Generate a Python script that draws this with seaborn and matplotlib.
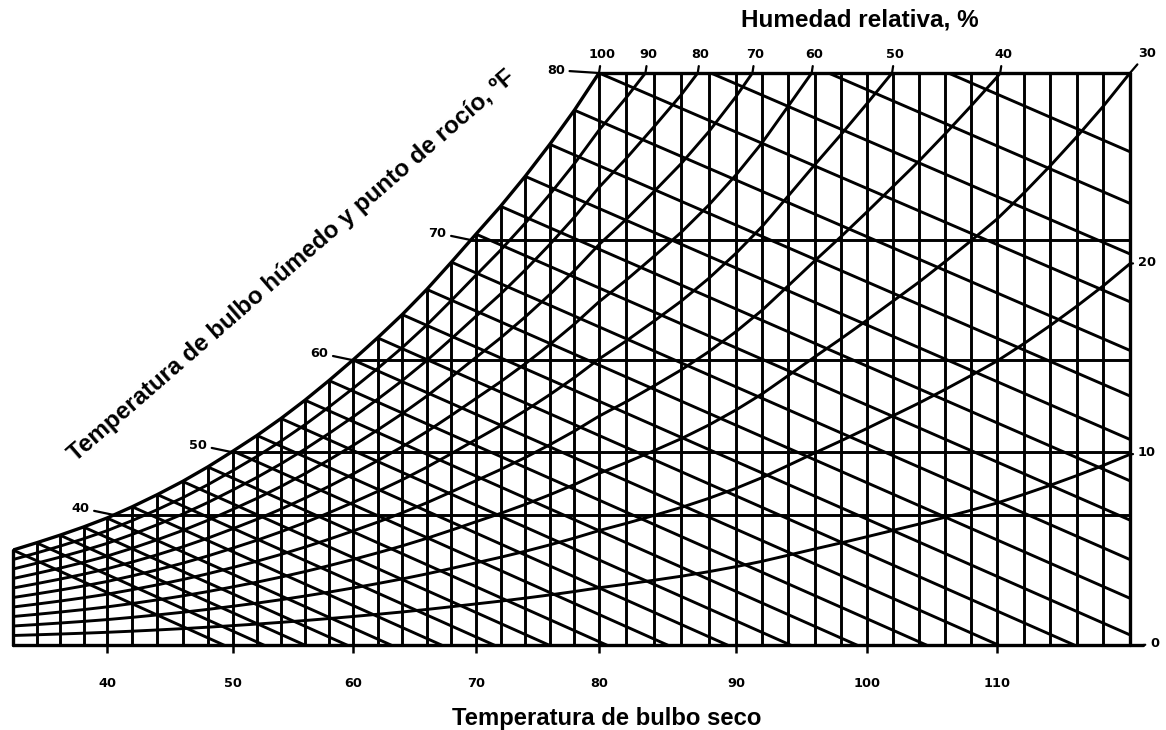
import numpy as np
import pandas as pd
import matplotlib
matplotlib.use("Agg")
import matplotlib.pyplot as plt
import seaborn as sns
from matplotlib.patches import Polygon

# ---------------- data ----------------
DRY_BULB = list(range(32, 122, 2))          # dry-bulb grid, °F
SATURATION = [4.98, 5.36, 5.76, 6.19, 6.66, 7.25, 7.89, 8.58, 9.34, 10.17,
              10.99, 11.88, 12.84, 13.87, 14.95, 16.11, 17.33, 18.65, 20.08, 21.55,
              23.01, 24.58, 26.26, 28.05, 30.00, 31.91, 33.96, 36.07, 38.44, 41.09,
              43.91, 47.12, 50.36, 53.52, 56.79, 60.12, 63.45, 67.00, 70.67, 74.46,
              78.97, 83.77, 88.85, 94.21, 100.00]   # 100 % RH curve (vertical scale units)
RH_LEVELS = [90, 80, 70, 60, 50, 40, 30, 20, 10]
TOP_RH_LABELS = [100, 90, 80, 70, 60, 50, 40, 30]
RIGHT_RH_LABELS = [20, 10, 0]
WET_BULB = list(range(32, 88, 2))
WB_SLOPE = 0.30                              # drop per °F along a wet-bulb line
DEW_LEVELS = [6.82, 10.12, 14.94, 21.24, 30.0]
DEW_LABELS = ["40", "50", "60", "70", "80"]
X_TICKS = [40, 50, 60, 70, 80, 90, 100, 110]
Y_TOP = 30.0

# hand-drawn (slightly uneven) temperature axis: where each tick sits along the axis
AXIS_T = [0, 32, 40, 50, 60, 70, 80, 90, 100, 110, 120, 200]
AXIS_U = [-376, 0, 94, 220, 340, 463, 586, 723, 854, 984, 1117, 2181]

LW = 2.1
NUM_FONT = dict(family=["DejaVu Sans"], fontweight="bold", fontsize=9.3, color="black")

sns.set_theme(style="white")
plt.rcParams["font.family"] = ["Liberation Sans", "DejaVu Sans"]
plt.rcParams["text.color"] = "black"

fig = plt.figure(figsize=(11.66, 7.30), dpi=100)
ax = fig.add_axes([13 / 1166, 85 / 730, 1117 / 1166, 572 / 730])


def _fwd(t):
    return np.interp(np.asarray(t, dtype=float), AXIS_T, AXIS_U)


def _inv(u):
    return np.interp(np.asarray(u, dtype=float), AXIS_U, AXIS_T)


ax.set_xscale("function", functions=(_fwd, _inv))
ax.set_xlim(DRY_BULB[0], DRY_BULB[-1])
ax.set_ylim(0, Y_TOP)
for sp in ax.spines.values():
    sp.set_visible(False)

T = np.array(DRY_BULB, dtype=float)
S = np.array(SATURATION, dtype=float)

# clip region: area under the saturation curve
clip_poly = Polygon([(T[0], 0)] + list(zip(T, S)) + [(T[-1], 0)], closed=True,
                    transform=ax.transData, fill=False)

# vertical dry-bulb lines
vl = ax.vlines(T[1:-1], 0, Y_TOP, colors="black", linewidth=LW)
vl.set_clip_path(clip_poly)

# dew-point horizontals
hl = ax.hlines(DEW_LEVELS[:-1], T[0], T[-1], colors="black", linewidth=LW)
hl.set_clip_path(clip_poly)

# relative humidity curves (seaborn)
rh_df = pd.DataFrame([(rh, t, rh / 100 * s) for rh in RH_LEVELS for t, s in zip(DRY_BULB, SATURATION)],
                     columns=["rh", "T", "e"])
n0 = len(ax.lines)
sns.lineplot(data=rh_df, x="T", y="e", units="rh", estimator=None, color="black",
             linewidth=LW, ax=ax, sort=False, legend=False)

# wet-bulb lines (seaborn)
wb_rows = []
for tw in WET_BULB:
    e0 = SATURATION[DRY_BULB.index(tw)]
    wb_rows.append((tw, tw, e0))
    wb_rows.append((tw, DRY_BULB[-1], e0 - WB_SLOPE * (DRY_BULB[-1] - tw)))
wb_df = pd.DataFrame(wb_rows, columns=["tw", "T", "e"])
sns.lineplot(data=wb_df, x="T", y="e", units="tw", estimator=None, color="black",
             linewidth=LW, ax=ax, sort=False, legend=False)
for ln in ax.lines[n0:]:
    ln.set_clip_path(clip_poly)
    ln.set_solid_capstyle("butt")

# saturation curve and frame
ax.plot(T, S, color="black", linewidth=LW + 0.3)
t_top = float(np.interp(Y_TOP, S, T))
ax.plot([t_top, T[-1]], [Y_TOP, Y_TOP], color="black", linewidth=LW + 0.3, clip_on=False)
ax.plot([T[0], T[-1] + 1], [0, 0], color="black", linewidth=LW + 0.3, clip_on=False)
ax.plot([T[0], T[0]], [0, S[0]], color="black", linewidth=LW + 0.3, clip_on=False)
ax.plot([T[-1], T[-1]], [0, Y_TOP], color="black", linewidth=LW + 0.3, clip_on=False)

# bottom ticks
ax.set_xticks(X_TICKS)
ax.set_xticks([], minor=True)
ax.set_xticklabels([str(v) for v in X_TICKS], **NUM_FONT)
ax.tick_params(axis="x", bottom=True, direction="out", length=6, width=1.8, color="black", pad=17)
ax.set_yticks([])
ax.set_xlabel("")
ax.set_ylabel("")

arrow = dict(arrowstyle="-", lw=1.6, color="black", shrinkA=1, shrinkB=0)

# relative-humidity labels along the top
for rh in TOP_RH_LABELS:
    tc = float(np.interp(Y_TOP, rh / 100 * S, T))
    off = (2, 13) if rh != 30 else (12, 14)
    ax.annotate(str(rh), xy=(tc, Y_TOP), xytext=off, textcoords="offset points",
                ha="center", va="center", annotation_clip=False,
                arrowprops=arrow, **NUM_FONT)

# relative-humidity labels on the right
for rh in RIGHT_RH_LABELS:
    ax.annotate(str(rh), xy=(T[-1] if rh else T[-1] + 1, rh / 100 * S[-1]),
                xytext=(12 if rh else 8, 1), textcoords="offset points",
                ha="center", va="center", annotation_clip=False,
                arrowprops=arrow, **NUM_FONT)

# dew-point labels on the saturation curve
for lvl, lab in zip(DEW_LEVELS, DEW_LABELS):
    tc = float(np.interp(lvl, S, T))
    off = (-31, 2) if lab == "80" else (-24, 5)
    ax.annotate(lab, xy=(tc, lvl), xytext=off, textcoords="offset points",
                ha="center", va="center", annotation_clip=False,
                arrowprops=arrow, **NUM_FONT)

# titles
title_font = dict(family=["Liberation Sans", "DejaVu Sans"], fontweight="bold", color="black")
fig.text(860 / 1166, 1 - 20 / 730, "Humedad relativa, %", ha="center", va="center",
         fontsize=17.5, **title_font)
fig.text(607 / 1166, 1 - 718 / 730, "Temperatura de bulbo seco", ha="center", va="center",
         fontsize=17.2, **title_font)
fig.text(292 / 1166, 1 - 266 / 730, "Temperatura de bulbo húmedo y punto de rocío, ºF",
         ha="center", va="center", rotation=41, rotation_mode="anchor",
         fontsize=17.4, **title_font)

fig.savefig("out.png", dpi=100, facecolor="white")
